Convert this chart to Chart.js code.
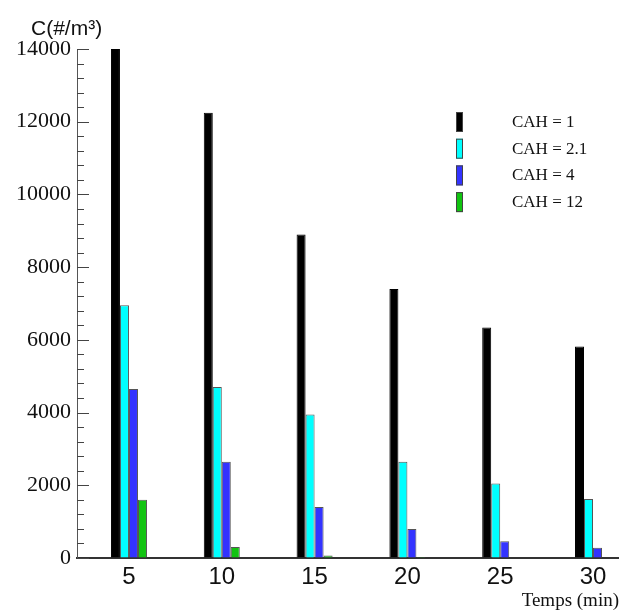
<!DOCTYPE html>
<html>
<head>
<meta charset="utf-8">
<script src="https://cdn.jsdelivr.net/npm/chart.js@4"></script>
<style>
  html, body { margin: 0; padding: 0; background: #fff; }
  canvas { display: block; }
</style>
</head>
<body>
<canvas id="conc" width="619" height="612"></canvas>
<script>
// sampling times (min)
const times = [5, 10, 15, 20, 25, 30];

// concentration C (#/m3) for each CAH value
const cah1 = [14000, 12250, 8900, 7400, 6340, 5820];
const cah2_1 = [6950, 4700, 3950, 2650, 2050, 1620];
const cah4 = [4650, 2650, 1400, 800, 460, 280];
const cah12 = [1600, 300, 70, 30, 0, 0];

const seriesLabels = ["CAH = 1", "CAH = 2.1", "CAH = 4", "CAH = 12"];
const seriesColors = ["#000000", "#00ffff", "#3333ff", "#11c411"];
const yTicks = [0, 2000, 4000, 6000, 8000, 10000, 12000, 14000];

const toPoints = vals => times.map((t, i) => ({ x: t, y: vals[i] }));

// inward major/minor ticks on the y axis
const yTickMarks = {
  id: "yTickMarks",
  afterDatasetsDraw(chart) {
    const { ctx, chartArea } = chart;
    const y = chart.scales.y;
    ctx.save();
    ctx.strokeStyle = "#444";
    ctx.lineWidth = 1;
    for (let v = 0; v <= 14000; v += 400) {
      const py = Math.round(y.getPixelForValue(v)) + 0.5;
      const len = v % 2000 === 0 ? 12 : 7;
      ctx.beginPath();
      ctx.moveTo(chartArea.left, py);
      ctx.lineTo(chartArea.left + len, py);
      ctx.stroke();
    }
    ctx.restore();
  }
};

// y title and the legend block
const annotations = {
  id: "annotations",
  afterDraw(chart) {
    const { ctx } = chart;
    ctx.save();
    ctx.fillStyle = "#111";
    ctx.textBaseline = "alphabetic";
    ctx.textAlign = "left";
    ctx.font = "21px 'Liberation Sans', Arial, sans-serif";
    ctx.fillText("C(#/m³)", 31, 35);

    ctx.font = "17px 'Liberation Serif', 'Times New Roman', serif";
    ctx.textBaseline = "middle";
    chart.data.datasets.forEach((ds, i) => {
      const top = 112 + i * 26.7;
      ctx.fillStyle = ds.backgroundColor;
      ctx.fillRect(456, top, 7, 20);
      ctx.strokeStyle = "#444";
      ctx.lineWidth = 1;
      ctx.strokeRect(456.5, top + 0.5, 6, 19);
      ctx.fillStyle = "#111";
      ctx.fillText(ds.label, 512, top + 10.5);
    });
    ctx.restore();
  }
};

new Chart(document.getElementById("conc"), {
  type: "bar",
  data: {
    datasets: [cah1, cah2_1, cah4, cah12].map((vals, i) => ({
      label: seriesLabels[i],
      data: toPoints(vals),
      backgroundColor: seriesColors[i],
      borderColor: i === 0 ? "#000" : "#555",
      borderWidth: 1,
      categoryPercentage: 0.388,
      barPercentage: 1
    }))
  },
  options: {
    responsive: false,
    animation: false,
    devicePixelRatio: 1,
    layout: { padding: { top: 49, left: 0, right: 0, bottom: 0 } },
    plugins: {
      legend: { display: false },
      tooltip: { enabled: false }
    },
    scales: {
      x: {
        type: "linear",
        offset: false,
        min: 2.2,
        max: 31.4,
        afterFit: s => { s.height = 54; },
        afterBuildTicks: s => { s.ticks = times.map(v => ({ value: v })); },
        grid: { display: true, drawOnChartArea: false, drawTicks: false },
        border: { color: "#333", width: 2 },
        ticks: {
          padding: 5,
          color: "#111",
          callback: v => String(v),
          font: { family: "'Liberation Sans', Arial, sans-serif", size: 24 }
        },
        title: {
          display: true,
          text: "Temps (min)",
          align: "end",
          color: "#111",
          padding: { top: 0, bottom: 0 },
          font: { family: "'Liberation Serif', 'Times New Roman', serif", size: 19 }
        }
      },
      y: {
        min: 0,
        max: 14000,
        afterFit: s => { s.width = 77; },
        afterBuildTicks: s => { s.ticks = yTicks.map(v => ({ value: v })); },
        grid: { display: true, drawOnChartArea: false, drawTicks: false },
        border: { color: "#555", width: 1 },
        ticks: {
          padding: 6,
          color: "#111",
          callback: v => String(v),
          font: { family: "'Liberation Serif', 'Times New Roman', serif", size: 22 }
        }
      }
    }
  },
  plugins: [yTickMarks, annotations]
});
</script>
</body>
</html>
